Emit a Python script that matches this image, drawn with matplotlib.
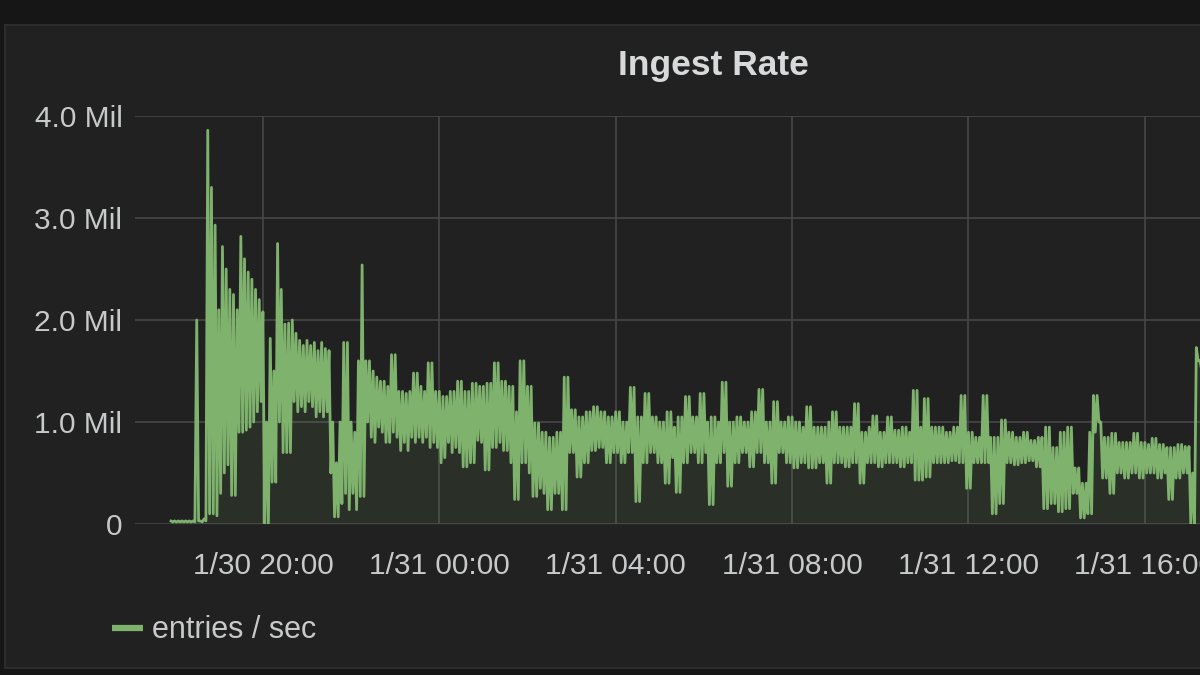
import matplotlib
matplotlib.use("Agg")
import matplotlib.pyplot as plt
import matplotlib.dates as mdates
from matplotlib.lines import Line2D
from matplotlib.patches import Rectangle
from matplotlib.ticker import FuncFormatter
import numpy as np
import pandas as pd

# ===========================
# data: million entries / sec, per 5-min bucket from 1/30 17:55
# the series swings between a high and a low sample inside each bucket
# ===========================
start_time = "2018-01-30 17:55"
rate_high = [
    0.03, 0.03, 0.03, 0.03, 0.03, 0.03, 0.03, 2.00, 0.03, 0.05, 3.86, 3.30,
    2.93, 2.10, 2.72, 2.50, 2.30, 2.25, 2.10, 2.82, 2.60, 2.47, 2.40, 2.30,
    2.20, 2.08, 1.00, 1.82, 1.50, 2.75, 2.30, 1.96, 1.97, 2.00, 1.87, 1.80,
    1.75, 1.80, 1.75, 1.78, 1.70, 1.78, 1.72, 1.70, 1.00, 0.60, 1.00, 1.78,
    1.78, 1.00, 0.90, 1.60, 2.54, 1.60, 1.60, 1.50, 1.44, 1.40, 1.40, 1.35,
    1.66, 1.66, 1.30, 1.30, 1.28, 1.30, 1.48, 1.48, 1.35, 1.30, 1.58, 1.58,
    1.30, 1.30, 1.25, 1.25, 1.30, 1.30, 1.40, 1.40, 1.30, 1.30, 1.38, 1.38,
    1.35, 1.35, 1.38, 1.38, 1.58, 1.58, 1.40, 1.40, 1.35, 1.35, 1.10, 1.60,
    1.60, 1.35, 1.35, 0.99, 0.99, 0.90, 0.90, 0.85, 0.85, 0.90, 0.90, 1.44,
    1.44, 1.12, 1.12, 1.05, 1.05, 1.10, 1.10, 1.15, 1.15, 1.10, 1.10, 1.05,
    1.05, 1.10, 1.10, 1.00, 1.00, 1.34, 1.34, 1.05, 1.05, 1.28, 1.28, 1.05,
    1.05, 1.00, 1.00, 1.10, 1.10, 0.95, 1.05, 1.05, 1.25, 1.25, 1.05, 1.05,
    1.28, 1.28, 1.00, 1.05, 1.05, 1.00, 1.39, 1.39, 1.00, 1.00, 1.05, 1.05,
    1.00, 1.00, 1.10, 1.10, 1.32, 1.32, 1.00, 1.00, 1.20, 1.20, 1.00, 1.00,
    1.05, 1.05, 1.00, 1.00, 0.95, 1.15, 1.15, 0.95, 0.95, 0.95, 0.95, 1.00,
    1.10, 1.10, 0.95, 0.95, 0.95, 0.95, 1.18, 1.18, 0.90, 0.90, 0.95, 1.06,
    1.06, 0.90, 0.90, 1.05, 1.05, 0.92, 0.92, 0.95, 0.95, 0.90, 1.31, 1.31,
    0.95, 1.23, 1.23, 0.95, 0.95, 0.95, 0.95, 0.90, 0.90, 0.95, 0.95, 1.26,
    1.26, 0.90, 0.90, 0.85, 0.85, 1.26, 1.26, 0.85, 0.85, 0.85, 1.02, 1.02,
    0.90, 0.90, 0.85, 0.85, 0.90, 0.90, 0.82, 0.82, 0.85, 0.85, 0.95, 0.95,
    0.75, 0.75, 0.90, 0.90, 0.95, 0.95, 0.55, 0.55, 0.40, 0.40, 0.90, 1.26,
    1.26, 1.00, 0.85, 0.85, 0.89, 0.89, 0.80, 0.80, 0.80, 0.80, 0.89, 0.89,
    0.80, 0.80, 0.78, 0.84, 0.84, 0.78, 0.78, 0.75, 0.75, 0.75, 0.78, 0.78,
    0.76, 0.76, 0.50, 1.73, 1.60,
]
rate_low = [
    0.02, 0.02, 0.02, 0.02, 0.02, 0.02, 0.02, 0.03, 0.02, 0.03, 0.10, 0.10,
    0.08, 0.30, 0.50, 0.58, 0.28, 0.28, 0.90, 0.90, 0.92, 0.95, 1.00, 1.10,
    1.20, 0.00, 0.00, 0.41, 0.41, 1.00, 0.70, 0.70, 0.70, 1.20, 1.10, 1.15,
    1.10, 1.20, 1.15, 1.05, 1.10, 1.05, 1.10, 0.50, 0.07, 0.07, 0.20, 0.30,
    0.14, 0.30, 0.14, 0.27, 0.27, 1.00, 0.85, 0.80, 0.95, 0.90, 0.80, 0.80,
    0.90, 0.85, 0.72, 0.80, 0.72, 0.85, 0.80, 0.85, 0.80, 0.85, 0.75, 0.80,
    0.75, 0.60, 0.65, 0.80, 0.70, 0.75, 0.70, 0.56, 0.56, 0.60, 0.60, 0.82,
    0.80, 0.53, 0.53, 0.75, 0.75, 0.80, 0.72, 0.72, 0.60, 0.24, 0.24, 0.60,
    0.60, 0.50, 0.27, 0.27, 0.35, 0.30, 0.14, 0.14, 0.30, 0.30, 0.14, 0.14,
    0.70, 0.70, 0.46, 0.46, 0.60, 0.60, 0.72, 0.72, 0.75, 0.75, 0.60, 0.60,
    0.70, 0.70, 0.60, 0.60, 0.70, 0.70, 0.22, 0.22, 0.60, 0.60, 0.70, 0.70,
    0.60, 0.60, 0.40, 0.40, 0.65, 0.31, 0.31, 0.60, 0.60, 0.70, 0.70, 0.60,
    0.60, 0.70, 0.19, 0.19, 0.60, 0.60, 0.70, 0.37, 0.37, 0.60, 0.60, 0.70,
    0.70, 0.56, 0.56, 0.70, 0.70, 0.60, 0.60, 0.40, 0.40, 0.70, 0.70, 0.60,
    0.60, 0.55, 0.55, 0.60, 0.60, 0.55, 0.55, 0.55, 0.60, 0.60, 0.40, 0.40,
    0.60, 0.60, 0.60, 0.56, 0.56, 0.60, 0.60, 0.40, 0.40, 0.60, 0.60, 0.60,
    0.56, 0.56, 0.60, 0.60, 0.60, 0.60, 0.56, 0.56, 0.60, 0.60, 0.43, 0.43,
    0.43, 0.46, 0.46, 0.60, 0.60, 0.60, 0.60, 0.60, 0.62, 0.62, 0.60, 0.60,
    0.35, 0.35, 0.60, 0.60, 0.60, 0.60, 0.60, 0.10, 0.10, 0.20, 0.20, 0.60,
    0.60, 0.58, 0.58, 0.60, 0.60, 0.62, 0.62, 0.56, 0.56, 0.15, 0.15, 0.20,
    0.20, 0.12, 0.12, 0.15, 0.15, 0.30, 0.30, 0.06, 0.06, 0.10, 0.10, 0.90,
    1.00, 0.45, 0.45, 0.30, 0.30, 0.50, 0.50, 0.45, 0.45, 0.50, 0.50, 0.45,
    0.45, 0.50, 0.50, 0.50, 0.45, 0.45, 0.50, 0.24, 0.24, 0.45, 0.45, 0.50,
    0.50, 0.00, 0.00, 1.60, 1.50,
]
y_ticks = [0, 1, 2, 3, 4]
x_start = "2018-01-30 17:06"
x_end = "2018-01-31 17:15"

# high sample at the start of each bucket, low sample half way through
rate_mil = np.column_stack([rate_high, rate_low]).ravel()
times = pd.date_range(start_time, periods=len(rate_mil), freq="150s")

# ===========================
# style
# ===========================
plt.rcParams['font.family'] = ['Liberation Sans', 'DejaVu Sans']
green = "#7eb26d"
text_color = "#c8c9ca"
grid_color = "#474747"

fig = plt.figure(figsize=(12, 6.75), dpi=100)
fig.patch.set_facecolor("#161616")

# panel background
fig.add_artist(Rectangle((5 / 1200, 1 - 668 / 675), 1.2, (668 - 25) / 675,
                         transform=fig.transFigure, facecolor="#212121",
                         edgecolor="#2c2c2c", lw=1.5, zorder=0))

ax = fig.add_axes([135 / 1200, 1 - 524 / 675, 1 - 135 / 1200, (524 - 116) / 675])
ax.set_facecolor("none")

ax.plot(times, rate_mil, color=green, lw=2.0, zorder=3)
ax.fill_between(times, rate_mil, 0, color=green, alpha=0.1, lw=0, zorder=2)

ax.set_xlim(pd.Timestamp(x_start), pd.Timestamp(x_end))
ax.set_ylim(0, 4)

ax.set_yticks(y_ticks)
ax.yaxis.set_major_formatter(FuncFormatter(lambda v, p: "0" if v == 0 else f"{v:.1f} Mil"))

ax.xaxis.set_major_locator(mdates.HourLocator(byhour=[0, 4, 8, 12, 16, 20]))
ax.xaxis.set_major_formatter(FuncFormatter(
    lambda v, p: (lambda d: f"{d.month}/{d.day} {d:%H:%M}")(mdates.num2date(v))))

ax.grid(True, color=grid_color, lw=1.2)
ax.set_axisbelow(True)
for s in ax.spines.values():
    s.set_visible(False)
ax.tick_params(axis="both", length=0, colors=text_color, labelsize=21.5)
ax.tick_params(axis="x", pad=20.5)
ax.tick_params(axis="y", pad=9)

# title
fig.text(713 / 1200, 1 - 65 / 675, "Ingest Rate", ha="center", va="center",
         color="#d8d9da", fontsize=25.5, fontweight="bold")

# legend
fig.add_artist(Line2D([112 / 1200, 143 / 1200], [1 - 628 / 675, 1 - 628 / 675],
                      transform=fig.transFigure, color=green, lw=4.5,
                      solid_capstyle="butt"))
fig.text(152 / 1200, 1 - 630 / 675, "entries / sec", ha="left", va="center",
         color=text_color, fontsize=22)

fig.savefig("out.png", dpi=100, facecolor=fig.get_facecolor())
